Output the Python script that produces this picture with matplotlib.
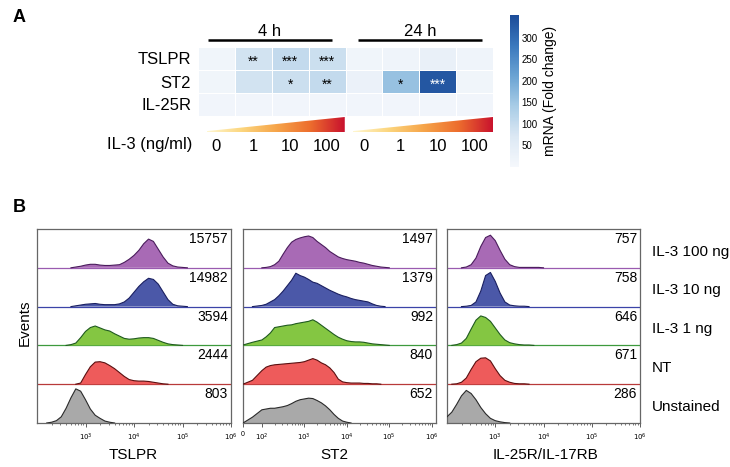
import numpy as np
import matplotlib
matplotlib.use("Agg")
import matplotlib.pyplot as plt
import matplotlib.transforms as mtrans
from matplotlib.colors import LinearSegmentedColormap
from matplotlib.patches import Polygon
from matplotlib.ticker import LogLocator, SymmetricalLogLocator, NullFormatter

plt.rcParams['font.family'] = ['Liberation Sans', 'DejaVu Sans']

# --- Panel A data ---
GENES = ["TSLPR", "ST2", "IL-25R"]
DOSES = ["0", "1", "10", "100", "0", "1", "10", "100"]
TIMES = ["4 h", "24 h"]
FOLD = [
    [15, 85, 105, 95, 15, 18, 35, 18],
    [15, 85, 95, 105, 30, 160, 335, 15],
    [12, 12, 12, 12, 12, 12, 12, 12],
]
STARS = [
    ["", "**", "***", "***", "", "", "", ""],
    ["", "", "*", "**", "", "*", "***", ""],
    ["", "", "", "", "", "", "", ""],
]
CBAR_TICKS = [50, 100, 150, 200, 250, 300]

# --- Panel B data ---
CONDITIONS = ["IL-3 100 ng", "IL-3 10 ng", "IL-3 1 ng", "NT", "Unstained"]
MARKERS = ["TSLPR", "ST2", "IL-25R/IL-17RB"]
MFI = {
    "TSLPR": [15757, 14982, 3594, 2444, 803],
    "ST2": [1497, 1379, 992, 840, 652],
    "IL-25R/IL-17RB": [757, 758, 646, 671, 286],
}
# histogram heights (% of lane), sampled every 0.1 decade from a start decade
TSLPR_HIST = [
    (2.7, [0, 2, 4, 7, 9, 9, 7, 6, 6, 7, 8, 14, 22, 32, 45, 62, 74, 68, 48, 28, 12, 5, 2, 1, 0]),
    (2.7, [0, 2, 4, 6, 7, 8, 6, 5, 5, 5, 7, 12, 22, 37, 52, 64, 73, 70, 58, 38, 18, 6, 2, 1, 0]),
    (2.6, [0, 2, 6, 20, 36, 46, 50, 45, 40, 37, 30, 24, 18, 16, 17, 19, 20, 20, 18, 13, 8, 4, 2, 1, 0]),
    (2.8, [0, 3, 25, 45, 57, 58, 55, 48, 40, 30, 20, 12, 9, 8, 8, 7, 5, 3, 1, 0]),
    (2.2, [0, 2, 6, 16, 38, 65, 88, 82, 60, 36, 20, 12, 5, 2, 0]),
]
IL25R_HIST = [
    (2.3, [0, 2, 8, 25, 55, 78, 84, 70, 45, 22, 8, 3, 1, 1, 1, 1, 1, 0]),
    (2.3, [0, 1, 3, 12, 40, 80, 88, 65, 35, 12, 4, 2, 1, 1, 0]),
    (2.1, [0, 2, 6, 18, 42, 65, 76, 72, 62, 45, 28, 14, 7, 4, 2, 1, 1, 0]),
    (2.1, [0, 1, 5, 16, 38, 58, 67, 68, 60, 40, 22, 10, 5, 2, 1, 1, 0]),
    (2.0, [16, 28, 48, 70, 84, 76, 60, 40, 24, 12, 6, 3, 1, 0]),
]
# ST2 axis is biexponential: values at 0, 50, then every 0.1 decade from 10^2
ST2_HIST = [
    [0, 0, 0, 1, 3, 8, 17, 35, 52, 66, 73, 77, 80, 82, 78, 68, 60, 52, 42, 35, 28,
     24, 21, 19, 17, 14, 12, 9, 6, 4, 2, 1, 0],
    [0, 0, 3, 6, 12, 18, 28, 40, 54, 68, 86, 80, 76, 70, 63, 60, 54, 48, 42, 37, 32,
     28, 25, 21, 18, 16, 14, 12, 7, 3, 1, 0],
    [1, 8, 14, 22, 32, 46, 48, 50, 52, 53, 56, 58, 60, 62, 66, 60, 52, 44, 36, 28, 21,
     16, 12, 10, 9, 9, 8, 6, 4, 3, 2, 1, 0],
    [0, 10, 35, 44, 48, 50, 51, 52, 53, 54, 55, 56, 58, 62, 66, 62, 55, 50, 42, 30, 13,
     6, 4, 3, 3, 3, 2, 2, 1, 1, 0],
    [0, 15, 34, 36, 38, 38, 40, 42, 45, 50, 56, 60, 62, 64, 63, 58, 52, 44, 34, 22, 12,
     5, 2, 0],
]

FILLS = ["#a86ab5", "#4b58a8", "#84c642", "#ee5b5b", "#a9a9a9"]
EDGES = ["#4a1c5c", "#1a1f60", "#1f5a1f", "#5a0f10", "#2a2a2a"]
BASES = ["#9a5bb0", "#3b44a8", "#3d9a3d", "#b83a3a", "#555555"]

W, H = 730, 467
fig = plt.figure(figsize=(W / 100, H / 100), dpi=100)


def box(x0, y0, x1, y1):
    # pixel box (top-left origin) -> figure fraction rect
    return [x0 / W, 1 - y1 / H, (x1 - x0) / W, (y1 - y0) / H]


# ---------------- Panel A ----------------
fig.text(19 / W, 1 - 18 / H, "A", fontsize=13, fontweight="bold", ha="center", va="center")

cmap = LinearSegmentedColormap.from_list(
    "mrna", ["#f5f8fc", "#dce8f4", "#a8cce6", "#6aa3d3", "#3a78bd", "#1c4c99"])

ax = fig.add_axes(box(198, 47, 493, 116))
mesh = ax.pcolormesh(np.array(FOLD), cmap=cmap, vmin=0, vmax=353,
                     edgecolors="white", linewidth=0.7)
ax.set_xlim(0, 8)
ax.set_ylim(3, 0)
for s in ax.spines.values():
    s.set_visible(False)
ax.set_xticks([])
ax.set_yticks(np.arange(3) + 0.5, GENES, fontsize=12)
ax.tick_params(axis="y", length=0, pad=5)
for i, row in enumerate(STARS):
    for j, st in enumerate(row):
        if st:
            c = "white" if FOLD[i][j] > 250 else "black"
            ax.text(j + 0.5, i + 0.65, st, ha="center", va="center", fontsize=10, color=c)

# time brackets
axb = fig.add_axes(box(198, 22, 493, 45))
axb.set_xlim(0, 8)
axb.set_ylim(0, 1)
axb.axis("off")
for (x0, x1), t in zip([(0.27, 3.63), (4.33, 7.7)], TIMES):
    axb.plot([x0, x1], [0.22, 0.22], color="black", lw=1.8, solid_capstyle="butt")
    axb.text((x0 + x1) / 2, 0.6, t, ha="center", va="center", fontsize=12)

# IL-3 gradient wedges
gcmap = LinearSegmentedColormap.from_list(
    "il3", ["#fff7d0", "#fcd67e", "#f6a54a", "#ed6d2d", "#c8102e"])
axg = fig.add_axes(box(198, 117, 493, 132))
axg.set_xlim(0, 8)
axg.set_ylim(0, 1)
axg.patch.set_visible(False)
for s in axg.spines.values():
    s.set_visible(False)
grad = np.linspace(0, 1, 256).reshape(1, -1)
for x0, x1 in [(0.24, 3.98), (4.2, 8.0)]:
    im = axg.imshow(grad, cmap=gcmap, extent=(x0, x1, 0, 1), aspect="auto", origin="lower")
    tri = Polygon([(x0, 0.0), (x1, 0.0), (x1, 1.0), (x0, 0.06)], closed=True,
                  transform=axg.transData, facecolor="none", edgecolor="none")
    axg.add_patch(tri)
    im.set_clip_path(tri)
axg.set_xlim(0, 8)
axg.set_ylim(0, 1)
axg.set_yticks([])
axg.set_xticks(np.arange(8) + 0.5, DOSES, fontsize=12)
axg.tick_params(axis="x", length=0, pad=5)
fig.text(192 / W, 1 - 145 / H, "IL-3 (ng/ml)", ha="right", va="center", fontsize=12)

# colorbar
cax = fig.add_axes(box(510, 15, 519, 167))
cb = fig.colorbar(mesh, cax=cax, ticks=CBAR_TICKS)
cb.outline.set_visible(False)
cb.ax.tick_params(length=0, labelsize=7, pad=2)
cb.set_label("mRNA (Fold change)", fontsize=10, labelpad=4)

# ---------------- Panel B ----------------
fig.text(19 / W, 1 - 208 / H, "B", fontsize=13, fontweight="bold", ha="center", va="center")
fig.text(25 / W, 1 - 323 / H, "Events", rotation=90, ha="center", va="center", fontsize=11)

LOG_GRID = np.arange(2.0, 6.001, 0.1)


def lane_curve(start, vals):
    h = np.zeros(len(LOG_GRID))
    k = int(round((start - 2.0) / 0.1))
    h[k:k + len(vals)] = vals
    return h / 100.0


def draw_lanes(ax, x, heights, mfi):
    for i in range(5):
        base = 4 - i
        h = np.asarray(heights[i], dtype=float)
        ax.fill_between(x, base, base + h, facecolor=FILLS[i], edgecolor="none", zorder=2)
        keep = (h > 0) | (np.r_[h[1:], 0] > 0) | (np.r_[0, h[:-1]] > 0)
        ax.plot(x, np.where(keep, base + h, np.nan), color=EDGES[i], lw=0.8, zorder=3)
        if i < 4:
            ax.axhline(base, color=BASES[i], lw=0.9, zorder=1)
        tr = mtrans.blended_transform_factory(ax.transAxes, ax.transData)
        ax.text(0.985, base + 0.74, str(mfi[i]), transform=tr, ha="right", va="center",
                fontsize=10)
    ax.set_ylim(0, 5)
    ax.set_yticks([])
    for s in ax.spines.values():
        s.set_color("#666666")
        s.set_linewidth(0.9)
    ax.tick_params(axis="x", which="major", labelsize=5, length=3, width=0.6,
                   color="#444444", direction="out", pad=3)
    ax.tick_params(axis="x", which="minor", length=1.5, width=0.5, color="#444444",
                   direction="out")


dec_labels = [r"$10^{%d}$" % d for d in range(2, 7)]
panel_px = [(37, 231), (243, 436), (447, 640)]
label_x = [133, 334, 545]

for p, marker in enumerate(MARKERS):
    x0, x1 = panel_px[p]
    ax = fig.add_axes(box(x0, 229, x1, 423))
    if marker == "ST2":
        xs = np.r_[0, 50, 10 ** LOG_GRID]
        heights = [np.r_[np.asarray(v, float), np.zeros(len(xs) - len(v))] / 100.0 for v in ST2_HIST]
        ax.set_xscale("symlog", linthresh=100, linscale=0.4)
        draw_lanes(ax, xs, heights, MFI[marker])
        ax.set_xlim(0, 10 ** 6.1)
        ax.set_xticks([0, 1e2, 1e3, 1e4, 1e5, 1e6], ["0"] + dec_labels)
        ax.xaxis.set_minor_locator(SymmetricalLogLocator(linthresh=100, base=10,
                                                         subs=np.arange(2, 10)))
        ax.xaxis.set_minor_formatter(NullFormatter())
    else:
        data = TSLPR_HIST if marker == "TSLPR" else IL25R_HIST
        xs = 10 ** LOG_GRID
        heights = [lane_curve(s, v) for s, v in data]
        ax.set_xscale("log")
        draw_lanes(ax, xs, heights, MFI[marker])
        ax.set_xlim(1e2, 1e6)
        ax.set_xticks([1e3, 1e4, 1e5, 1e6], dec_labels[1:])
        ax.xaxis.set_minor_locator(LogLocator(base=10, subs=np.arange(2, 10)))
        ax.xaxis.set_minor_formatter(NullFormatter())
    fig.text(label_x[p] / W, 1 - 455 / H, marker, ha="center", va="center", fontsize=11)
    if p == 2:
        tr = mtrans.blended_transform_factory(ax.transAxes, ax.transData)
        for i, cond in enumerate(CONDITIONS):
            ax.text(1.06, 4 - i + 0.42, cond, transform=tr, ha="left", va="center",
                    fontsize=11)

fig.savefig("out.png", dpi=100)
